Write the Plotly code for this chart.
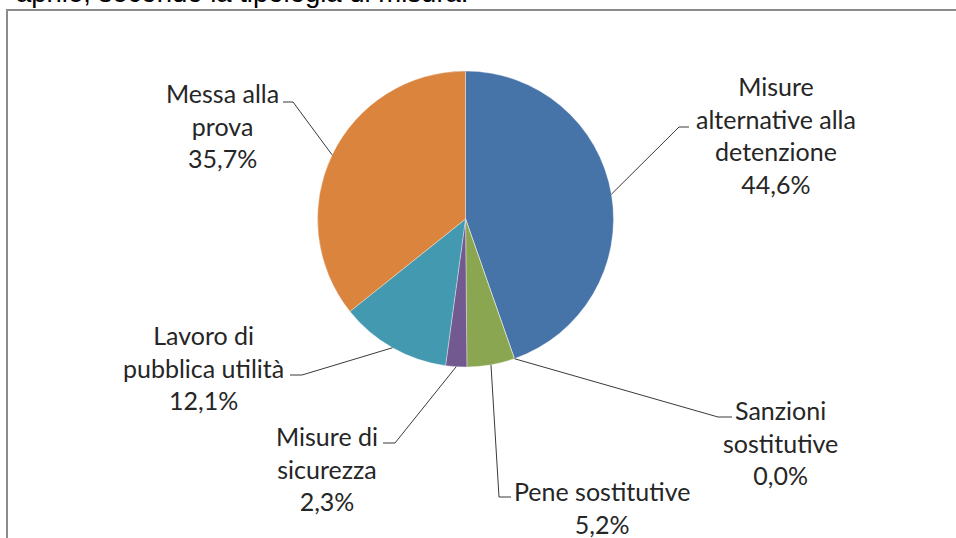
import math
import plotly.graph_objects as go

# ---- data ----
categories = ["Misure alternative alla detenzione", "Sanzioni sostitutive", "Pene sostitutive",
              "Misure di sicurezza", "Lavoro di pubblica utilità", "Messa alla prova"]
label_texts = ["Misure<br>alternative alla<br>detenzione", "Sanzioni<br>sostitutive", "Pene sostitutive",
               "Misure di<br>sicurezza", "Lavoro di<br>pubblica utilità", "Messa alla<br>prova"]
values = [44.6, 0.0, 5.2, 2.3, 12.1, 35.7]
colors = ["#4673A8", "#9BBB59", "#8AA650", "#72598F", "#4399B0", "#DA843E"]
title_text = "aprile, secondo la tipologia di misura."

W, H = 956, 538
CX, CY, R = 465.5, 219.0, 148.0

def px(x):
    return x / W

def py(y):
    return 1 - y / H

fig = go.Figure()
fig.add_trace(go.Pie(
    labels=categories, values=values, sort=False, direction="clockwise", rotation=0,
    marker=dict(colors=colors, line=dict(color="rgba(255,255,255,0.6)", width=0.6)),
    textinfo="none", hoverinfo="label+percent", showlegend=False,
    domain=dict(x=[px(CX - R), px(CX + R)], y=[py(CY + R), py(CY - R)]),
))

# label layout (pixel positions of label centres and leader-line elbows)
label_pos = [(776, 135), (780, 442), (602, 507), (327, 468), (203, 367), (222, 125)]
elbows = [((679, 127), (689, 127)), ((718, 417), (732, 417)), ((499, 497), (511, 497)),
          ((395, 443), (383, 443)), ((302, 375), (290, 375)), ((293, 102), (283, 102))]

total = sum(values)
cum = 0.0
annotations = []
shapes = []
for i, v in enumerate(values):
    mid = (cum + v / 2) / total * 2 * math.pi
    cum += v
    ax = CX + R * math.sin(mid)
    ay = CY - R * math.cos(mid)
    (ex, ey), (hx, hy) = elbows[i]
    shapes.append(dict(type="path", xref="paper", yref="paper",
                       path=f"M {px(ax)} {py(ay)} L {px(ex)} {py(ey)} L {px(hx)} {py(hy)}",
                       line=dict(color="#3a3a3a", width=1)))
    pct = f"{v:.1f}".replace(".", ",") + "%"
    lx, ly = label_pos[i]
    annotations.append(dict(text=f"{label_texts[i]}<br>{pct}", x=px(lx), y=py(ly),
                            xref="paper", yref="paper", xanchor="center", yanchor="middle",
                            showarrow=False, align="center",
                            font=dict(family="Lato", size=25, color="#262626")))

annotations.append(dict(text=title_text, x=px(14), y=py(-7.5), xref="paper", yref="paper",
                        xanchor="left", yanchor="middle", showarrow=False,
                        font=dict(family="Liberation Sans, Arial", size=27.5, color="#000000")))

shapes.append(dict(type="rect", xref="paper", yref="paper",
                   x0=px(7), x1=px(W + 20), y0=py(H + 20), y1=py(10),
                   line=dict(color="#8c8c8c", width=2), fillcolor="rgba(0,0,0,0)"))

fig.update_layout(width=W, height=H, margin=dict(l=0, r=0, t=0, b=0),
                  paper_bgcolor="white", plot_bgcolor="white",
                  annotations=annotations, shapes=shapes)
fig.write_html("out.html", config={"displayModeBar": False},
               post_script="document.body.style.margin='0';document.body.style.padding='0';")
